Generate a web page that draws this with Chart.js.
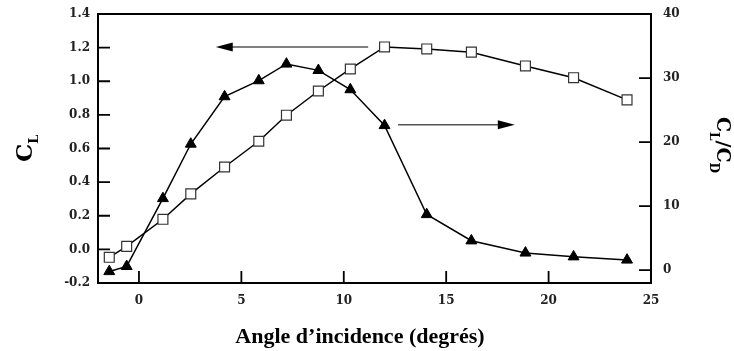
<!DOCTYPE html>
<html>
<head>
<meta charset="utf-8">
<script src="https://cdn.jsdelivr.net/npm/chart.js@4.4.1/dist/chart.umd.min.js"></script>
<style>
  html, body { margin: 0; padding: 0; background: #fff; }
  #wrap { width: 734px; height: 351px; }
</style>
</head>
<body>
<div id="wrap"><canvas id="polar"></canvas></div>
<script>
// angle of incidence (deg), shared by both curves
const angles = [-1.45, -0.6, 1.17, 2.53, 4.18, 5.85, 7.2, 8.76, 10.32, 11.99, 14.05, 16.23, 18.87, 21.22, 23.83];
// lift coefficient C_L (left axis, open squares)
const liftCoef = [-0.047, 0.018, 0.179, 0.33, 0.49, 0.643, 0.798, 0.942, 1.073, 1.204, 1.192, 1.173, 1.091, 1.021, 0.889];
// lift / drag ratio C_L/C_D (right axis, filled triangles)
const liftDrag = [-0.2, 0.6, 11.2, 19.7, 27.1, 29.6, 32.2, 31.2, 28.2, 22.6, 8.7, 4.6, 2.7, 2.1, 1.6];

const xTicks = [0, 5, 10, 15, 20, 25];
const clTicks = [-0.2, 0, 0.2, 0.4, 0.6, 0.8, 1.0, 1.2, 1.4];
const ldTicks = [0, 10, 20, 30, 40];

// arrows pointing each curve to its axis: [x0, x1, y, axis]
const arrows = [
  [11.19, 3.75, 1.204, 'y'],
  [12.65, 18.35, 22.7, 'y1']
];

const tickFont = { family: 'DejaVu Serif', weight: 'bold', size: 12 };

const frame = {
  id: 'frame',
  afterDraw(chart) {
    const { ctx, chartArea: a, scales } = chart;
    ctx.save();
    ctx.strokeStyle = '#000';
    ctx.lineWidth = 2;
    ctx.strokeRect(a.left, a.top, a.right - a.left, a.bottom - a.top);

    // inward tick marks
    ctx.lineWidth = 1.8;
    ctx.beginPath();
    clTicks.forEach(v => {
      const y = scales.y.getPixelForValue(v);
      ctx.moveTo(a.left, y); ctx.lineTo(a.left + 12, y);
    });
    ldTicks.forEach(v => {
      const y = scales.y1.getPixelForValue(v);
      ctx.moveTo(a.right, y); ctx.lineTo(a.right - 12, y);
    });
    xTicks.forEach(v => {
      const x = scales.x.getPixelForValue(v);
      ctx.moveTo(x, a.bottom); ctx.lineTo(x, a.bottom - 12);
    });
    ctx.stroke();

    // arrows
    arrows.forEach(([x0, x1, yv, ax]) => {
      const px0 = scales.x.getPixelForValue(x0);
      const px1 = scales.x.getPixelForValue(x1);
      const py = scales[ax].getPixelForValue(yv);
      const dir = Math.sign(px1 - px0);
      ctx.strokeStyle = '#555';
      ctx.lineWidth = 1.5;
      ctx.beginPath();
      ctx.moveTo(px0, py); ctx.lineTo(px1 - dir * 14, py);
      ctx.stroke();
      ctx.fillStyle = '#000';
      ctx.beginPath();
      ctx.moveTo(px1, py);
      ctx.lineTo(px1 - dir * 17, py - 4.5);
      ctx.lineTo(px1 - dir * 17, py + 4.5);
      ctx.closePath();
      ctx.fill();
    });

    // axis titles
    ctx.fillStyle = '#000';
    ctx.textBaseline = 'alphabetic';

    // left: C_L
    ctx.save();
    ctx.translate(32, 162);
    ctx.rotate(-Math.PI / 2);
    ctx.textAlign = 'left';
    ctx.font = 'bold 23px "DejaVu Serif"';
    ctx.fillText('C', 0, 0);
    let w = ctx.measureText('C').width;
    ctx.font = 'bold 13px "DejaVu Serif"';
    ctx.fillText('L', w, 6);
    ctx.restore();

    // right: C_L/C_D
    ctx.save();
    ctx.translate(717, 117);
    ctx.rotate(Math.PI / 2);
    ctx.textAlign = 'left';
    let x = 0;
    const big = 'bold 19px "DejaVu Serif"', small = 'bold 12px "DejaVu Serif"';
    [['C', big, 0], ['L', small, 7], ['/', big, 0], ['C', big, 0], ['D', small, 7]].forEach(([t, f, dy]) => {
      ctx.font = f;
      ctx.fillText(t, x, dy);
      x += ctx.measureText(t).width;
    });
    ctx.restore();

    // bottom title
    ctx.font = 'bold 22px "Liberation Serif"';
    ctx.textAlign = 'center';
    ctx.fillText('Angle d\u2019incidence (degrés)', 360, 343);
    ctx.restore();
  }
};

const fitSide = w => s => { s.width = w; s.paddingTop = 0; s.paddingBottom = 0; };

new Chart(document.getElementById('polar'), {
  type: 'line',
  data: {
    datasets: [
      {
        label: 'CL',
        data: angles.map((a, i) => ({ x: a, y: liftCoef[i] })),
        yAxisID: 'y',
        borderColor: '#000',
        borderWidth: 1.5,
        pointStyle: 'rect',
        pointRadius: 7,
        pointBackgroundColor: '#fff',
        pointBorderColor: '#333',
        pointBorderWidth: 1.2,
        tension: 0
      },
      {
        label: 'CL/CD',
        data: angles.map((a, i) => ({ x: a, y: liftDrag[i] })),
        yAxisID: 'y1',
        borderColor: '#000',
        borderWidth: 1.5,
        pointStyle: 'triangle',
        pointRadius: 6.3,
        pointBackgroundColor: '#000',
        pointBorderColor: '#000',
        pointBorderWidth: 1,
        tension: 0
      }
    ]
  },
  options: {
    responsive: true,
    maintainAspectRatio: false,
    animation: false,
    layout: { padding: { top: 14, left: 0, right: 0, bottom: 0 } },
    plugins: { legend: { display: false }, tooltip: { enabled: false } },
    scales: {
      x: {
        type: 'linear',
        min: -2,
        max: 25,
        afterBuildTicks: s => { s.ticks = xTicks.map(v => ({ value: v })); },
        afterFit: s => { s.height = 68; s.paddingLeft = 0; s.paddingRight = 0; },
        grid: { display: false, drawTicks: false },
        border: { display: false },
        ticks: { font: tickFont, color: '#222', padding: 11, maxRotation: 0 }
      },
      y: {
        position: 'left',
        min: -0.2,
        max: 1.4,
        afterBuildTicks: s => { s.ticks = clTicks.map(v => ({ value: v })); },
        afterFit: fitSide(98),
        grid: { display: false, drawTicks: false },
        border: { display: false },
        ticks: { font: tickFont, color: '#222', padding: 8, callback: v => v.toFixed(1) }
      },
      y1: {
        position: 'right',
        min: -2,
        max: 40,
        afterBuildTicks: s => { s.ticks = ldTicks.map(v => ({ value: v })); },
        afterFit: fitSide(83),
        grid: { display: false, drawTicks: false },
        border: { display: false },
        ticks: { font: tickFont, color: '#222', padding: 12 }
      }
    }
  },
  plugins: [frame]
});
</script>
</body>
</html>
